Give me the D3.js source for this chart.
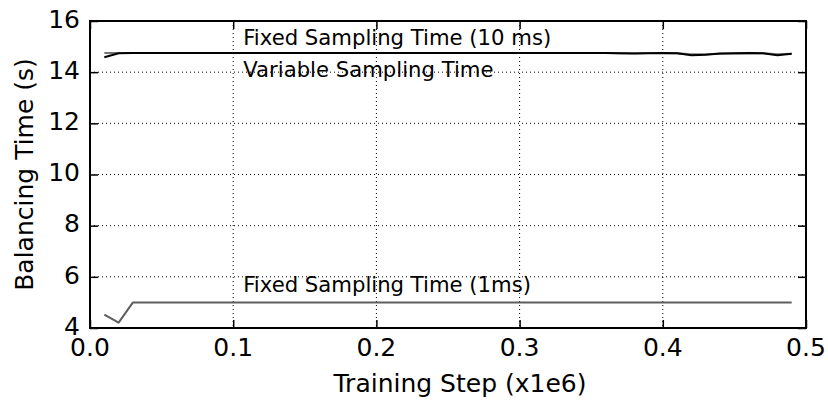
<!DOCTYPE html>
<html>
<head>
<meta charset="utf-8">
<script src="https://cdn.jsdelivr.net/npm/d3@7/dist/d3.min.js"></script>
<style>
  html, body { margin: 0; padding: 0; background: #fff; }
  svg { display: block; font-family: "DejaVu Sans", sans-serif; }
</style>
</head>
<body>
<svg id="chart" width="828" height="401"></svg>
<script>
// Training steps (x1e6)
const steps = [0.01,0.02,0.03,0.04,0.05,0.06,0.07,0.08,0.09,0.10,
               0.11,0.12,0.13,0.14,0.15,0.16,0.17,0.18,0.19,0.20,
               0.21,0.22,0.23,0.24,0.25,0.26,0.27,0.28,0.29,0.30,
               0.31,0.32,0.33,0.34,0.35,0.36,0.37,0.38,0.39,0.40,
               0.41,0.42,0.43,0.44,0.45,0.46,0.47,0.48,0.49];

// Balancing time (s), fixed sampling 10 ms
const fixed10 = [14.75,14.75,14.75,14.75,14.75,14.75,14.75,14.75,14.75,14.75,
                 14.75,14.75,14.75,14.75,14.75,14.75,14.75,14.75,14.75,14.75,
                 14.75,14.75,14.75,14.75,14.75,14.75,14.75,14.75,14.75,14.75,
                 14.75,14.75,14.75,14.75,14.75,14.75,14.74,14.74,14.75,14.75,
                 14.74,14.70,14.70,14.72,14.73,14.74,14.74,14.70,14.72];

// Balancing time (s), variable sampling
const variable = [14.58,14.74,14.75,14.75,14.75,14.75,14.75,14.75,14.75,14.75,
                  14.75,14.75,14.75,14.75,14.75,14.75,14.75,14.75,14.75,14.75,
                  14.75,14.75,14.75,14.75,14.75,14.75,14.75,14.75,14.75,14.75,
                  14.75,14.75,14.75,14.75,14.75,14.75,14.74,14.73,14.74,14.75,
                  14.74,14.66,14.68,14.73,14.74,14.75,14.74,14.66,14.72];

// Balancing time (s), fixed sampling 1 ms
const fixed1 = [4.52,4.21,5.0,5.0,5.0,5.0,5.0,5.0,5.0,5.0,
                5.0,5.0,5.0,5.0,5.0,5.0,5.0,5.0,5.0,5.0,
                5.0,5.0,5.0,5.0,5.0,5.0,5.0,5.0,5.0,5.0,
                5.0,5.0,5.0,5.0,5.0,5.0,5.0,5.0,5.0,5.0,
                5.0,5.0,5.0,5.0,5.0,5.0,5.0,5.0,5.0];

const xTicks = [0.0, 0.1, 0.2, 0.3, 0.4, 0.5];
const xTickLabels = ["0.0", "0.1", "0.2", "0.3", "0.4", "0.5"];
const yTicks = [4, 6, 8, 10, 12, 14, 16];
const yTickLabels = ["4", "6", "8", "10", "12", "14", "16"];

const annotations = [
  { text: "Fixed Sampling Time (10 ms)", x: 0.107, y: 15.06 },
  { text: "Variable Sampling Time", x: 0.107, y: 13.80 },
  { text: "Fixed Sampling Time (1ms)", x: 0.107, y: 5.42 }
];

const plotLeft = 90, plotRight = 806, plotTop = 21, plotBottom = 328;
const svg = d3.select("#chart");

const x = d3.scaleLinear().domain([0, 0.5]).range([plotLeft, plotRight]);
const y = d3.scaleLinear().domain([4, 16]).range([plotBottom, plotTop]);

// dotted grid
const grid = svg.append("g").attr("stroke", "#000").attr("stroke-width", 1)
  .attr("stroke-dasharray", "1,3").attr("fill", "none");
grid.selectAll("line.gx").data(xTicks.slice(1, -1)).join("line")
  .attr("class", "gx")
  .attr("x1", d => x(d)).attr("x2", d => x(d))
  .attr("y1", plotTop).attr("y2", plotBottom);
grid.selectAll("line.gy").data(yTicks.slice(1, -1)).join("line")
  .attr("class", "gy")
  .attr("x1", plotLeft).attr("x2", plotRight)
  .attr("y1", d => y(d)).attr("y2", d => y(d));

// inward tick marks on all four sides
const tk = 8;
svg.append("g").attr("transform", `translate(0,${plotBottom})`)
  .call(d3.axisTop(x).tickValues(xTicks).tickSize(tk).tickFormat(""))
  .call(g => g.select(".domain").remove());
svg.append("g").attr("transform", `translate(0,${plotTop})`)
  .call(d3.axisBottom(x).tickValues(xTicks).tickSize(tk).tickFormat(""))
  .call(g => g.select(".domain").remove());
svg.append("g").attr("transform", `translate(${plotLeft},0)`)
  .call(d3.axisRight(y).tickValues(yTicks).tickSize(tk).tickFormat(""))
  .call(g => g.select(".domain").remove());
svg.append("g").attr("transform", `translate(${plotRight},0)`)
  .call(d3.axisLeft(y).tickValues(yTicks).tickSize(tk).tickFormat(""))
  .call(g => g.select(".domain").remove());
svg.selectAll(".tick line").attr("stroke", "#000").attr("stroke-width", 1.5);

// tick labels
svg.append("g").selectAll("text").data(xTicks).join("text")
  .attr("x", d => x(d)).attr("y", plotBottom + 28)
  .attr("text-anchor", "middle").attr("font-size", 25).attr("fill", "#000")
  .text((d, i) => xTickLabels[i]);
svg.append("g").selectAll("text").data(yTicks).join("text")
  .attr("x", plotLeft - 10).attr("y", d => y(d)).attr("dy", "0.27em")
  .attr("text-anchor", "end").attr("font-size", 25).attr("fill", "#000")
  .text((d, i) => yTickLabels[i]);

// series lines
const line = d3.line().x((d, i) => x(steps[i])).y(d => y(d));
const series = [
  { values: fixed1, color: "#5e5e5e" },
  { values: fixed10, color: "#777777" },
  { values: variable, color: "#000000" }
];
svg.append("g").selectAll("path").data(series).join("path")
  .attr("d", d => line(d.values))
  .attr("fill", "none").attr("stroke", d => d.color)
  .attr("stroke-width", 2).attr("stroke-linejoin", "round");

// annotations
svg.append("g").selectAll("text").data(annotations).join("text")
  .attr("x", d => x(d.x)).attr("y", d => y(d.y))
  .attr("font-size", 21.2).attr("fill", "#000")
  .text(d => d.text);

// frame
svg.append("rect").attr("x", plotLeft).attr("y", plotTop)
  .attr("width", plotRight - plotLeft).attr("height", plotBottom - plotTop)
  .attr("fill", "none").attr("stroke", "#000").attr("stroke-width", 2);

// axis titles
svg.append("text").attr("x", 460).attr("y", 392)
  .attr("text-anchor", "middle").attr("font-size", 25).attr("fill", "#000")
  .text("Training Step (x1e6)");
svg.append("text")
  .attr("transform", `translate(33,${(plotTop + plotBottom) / 2}) rotate(-90)`)
  .attr("text-anchor", "middle").attr("font-size", 25).attr("fill", "#000")
  .text("Balancing Time (s)");
</script>
</body>
</html>
